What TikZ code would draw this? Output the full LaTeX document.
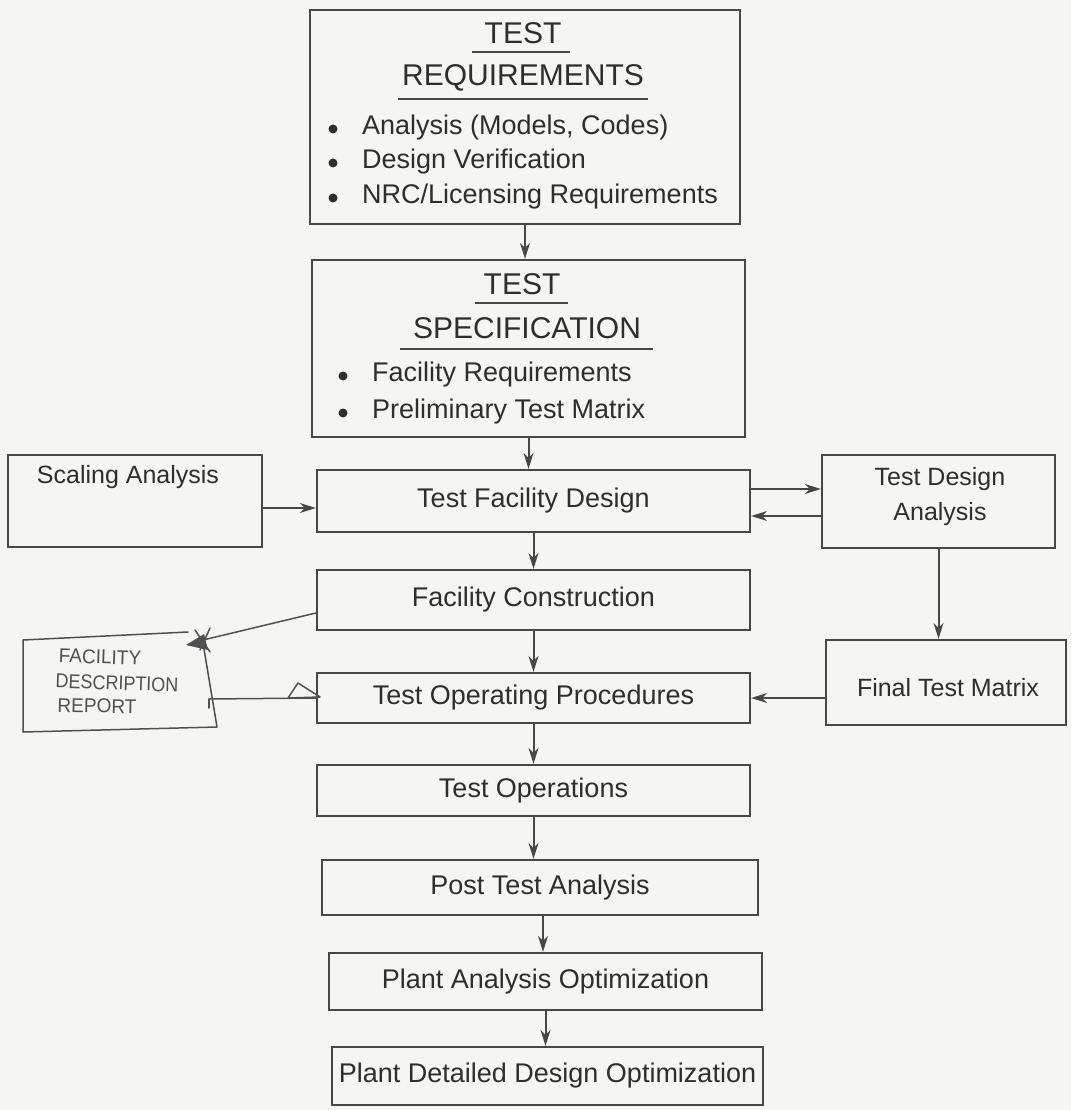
\documentclass[tikz,border=0pt]{standalone}
\usepackage{fontspec}
\setmainfont{Liberation Sans}
\usetikzlibrary{arrows.meta}
\definecolor{ink}{HTML}{2E2E2E}
\definecolor{lin}{HTML}{474747}
\definecolor{paper}{HTML}{F5F5F3}
\definecolor{pencil}{HTML}{505050}
\begin{document}
\begin{tikzpicture}[x=1pt,y=-1pt,
 box/.style={draw=lin, line width=2.3pt, text=ink, font=\fontsize{27}{35}\selectfont, inner sep=0pt, align=center},
 lbl/.style={text=ink, font=\fontsize{27}{35}\selectfont, inner sep=0pt},
 sidelbl/.style={text=ink, font=\fontsize{25}{35}\selectfont, inner sep=0pt, align=center},
 ttl/.style={text=ink, font=\fontsize{30}{34}\selectfont, inner sep=0pt},
 uline/.style={draw=lin, line width=1.8pt},
 dot/.style={fill=ink},
 arr/.style={draw=lin, line width=2pt, -{Stealth[length=16pt,width=10pt]}},
 hand/.style={draw=pencil, line width=1.5pt, line join=round, line cap=round},
 handtxt/.style={text=pencil, font=\fontsize{20}{22}\selectfont, inner sep=0pt}
]
\fill[paper] (0,0) rectangle (1071,1110);
\useasboundingbox (0,0) rectangle (1071,1110);

% --- Test Requirements
\node[box, minimum width=430, minimum height=214] (req) at (525,117) {};
\node[ttl] (reqT) at (523,33) {TEST};
\draw[uline] (472,52) -- (570,52);
\node[ttl] (reqR) at (523,78) {REQUIREMENTS};
\draw[uline] (398,99) -- (648,99);
\fill[dot] (333,129) circle[radius=4.5pt];
\fill[dot] (333,163) circle[radius=4.5pt];
\fill[dot] (333,198) circle[radius=4.5pt];
\node[lbl, anchor=west] (r1) at (362,128) {Analysis (Models, Codes)};
\node[lbl, anchor=west] (r2) at (362,162) {Design Verification};
\node[lbl, anchor=west] (r3) at (362,197) {NRC/Licensing Requirements};

% --- Test Specification
\node[box, minimum width=433, minimum height=177] (spec) at (528.5,348.5) {};
\node[ttl] (specT) at (522,284) {TEST};
\draw[uline] (475,303) -- (568,303);
\node[ttl] (specS) at (527,328) {SPECIFICATION};
\draw[uline] (400,349) -- (653,349);
\fill[dot] (343,376) circle[radius=4.5pt];
\fill[dot] (343,413) circle[radius=4.5pt];
\node[lbl, anchor=west] (s1) at (372,375) {Facility Requirements};
\node[lbl, anchor=west] (s2) at (372,412) {Preliminary Test Matrix};

% --- middle row
\node[box, minimum width=254, minimum height=92] (sa) at (135,501) {};
\node[sidelbl] (saT) at (128,477) {Scaling Analysis};
\node[box, minimum width=433, minimum height=62] (tfd) at (533.5,501) {Test Facility Design};
\node[box, minimum width=233, minimum height=93] (tda) at (938.5,501.5) {};
\node[sidelbl] (tdaT) at (940,497) {Test Design\\Analysis};

\node[box, minimum width=433, minimum height=60] (fc) at (533.5,600) {Facility Construction};
\node[box, minimum width=433, minimum height=50] (top) at (533.5,698) {Test Operating Procedures};
\node[box, minimum width=240, minimum height=85] (ftm) at (946,682.5) {};
\node[sidelbl] (ftmT) at (948,688) {Final Test Matrix};
\node[box, minimum width=433, minimum height=51] (to) at (533.5,790.5) {Test Operations};
\node[box, minimum width=436, minimum height=55] (pta) at (540,887.5) {Post Test Analysis};
\node[box, minimum width=433, minimum height=57] (pao) at (545.5,981.5) {Plant Analysis Optimization};
\node[box, minimum width=431, minimum height=58] (pdo) at (547.5,1076) {Plant Detailed Design Optimization};

% --- connectors
\draw[arr] (req.south) -- (req.south |- spec.north);
\draw[arr] (spec.south) -- (spec.south |- tfd.north);
\draw[arr] (sa.east |- 0,508) -- (tfd.west |- 0,508);
\draw[arr] (tfd.east |- 0,489) -- (tda.west |- 0,489);
\draw[arr] (tda.west |- 0,516) -- (tfd.east |- 0,516);
\draw[arr] (tfd.south) -- (fc.north);
\draw[arr] (fc.south) -- (top.north);
\draw[arr] (tda.south) -- (tda.south |- ftm.north);
\draw[arr] (ftm.west |- top.east) -- (top.east);
\draw[arr] (top.south) -- (to.north);
\draw[arr] (to.south) -- (to.south |- pta.north);
\draw[arr] (pta.south -| 543,0) -- (pao.north -| 543,0);
\draw[arr] (pao.south) -- (pao.south |- pdo.north);

% --- handwritten note
\draw[hand] (23,640) -- (188,632);
\draw[hand] (203,643) -- (217,727) -- (23,732) -- (23,640);
\draw[hand] (209,699) -- (209,708);
\node[handtxt, rotate=-2, xscale=0.95] (h1) at (100,657) {FACILITY};
\node[handtxt, rotate=-2, xscale=0.9] (h2) at (117,683) {DESCRIPTION};
\node[handtxt, rotate=-1, xscale=0.95] (h3) at (97,706) {REPORT};
\coordinate (star) at (203,640);
\coordinate (hb) at (209,699);
\draw[hand] ([yshift=-13pt]fc.west) -- (star);
\fill[pencil] (186,645) -- (204,634) -- (208,650) -- cycle;
\draw[hand] (195,630) -- (210,652);
\draw[hand] (210,628) -- (200,650);
\draw[hand] (top.west) -- (hb);
\draw[hand] (288,698) -- (298,683) -- (320,697) -- cycle;
\end{tikzpicture}
\end{document}
